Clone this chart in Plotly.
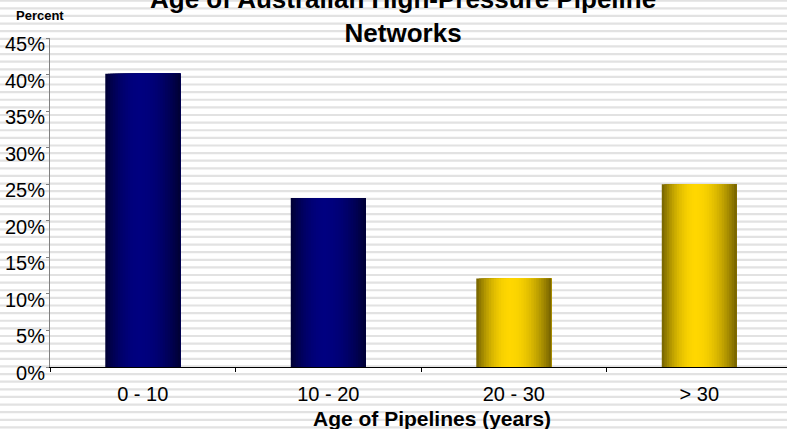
import numpy as np
import plotly.graph_objects as go

# ---- data ----
categories = ["0 - 10", "10 - 20", "20 - 30", "> 30"]
percent_values = [40.1, 23.1, 12.1, 25.0]
bar_palette = ["blue", "blue", "gold", "gold"]
y_tick_values = [0, 5, 10, 15, 20, 25, 30, 35, 40, 45]
y_tick_labels = ["0%", "5%", "10%", "15%", "20%", "25%", "30%", "35%", "40%", "45%"]

title_text = "Age of Australian High-Pressure Pipeline<br>Networks"
x_title_text = "Age of Pipelines (years)"
y_title_text = "Percent"

# ---- geometry (pixels) ----
W, H = 787, 429
ML, MR, MT, MB = 50, 0, 38, 62
plot_w = W - ML - MR
plot_h = H - MT - MB
cat_px = 185.5
x_range = [-0.5, -0.5 + plot_w / cat_px]

def px_to_paper_y(py):
    return (H - MB - py) / plot_h

def px_to_paper_x(px):
    return (px - ML) / plot_w

FONT = "Liberation Sans, Arial, sans-serif"

# ---- gradient colours ----
centers = {"blue": (0, 0, 128), "gold": (255, 215, 0)}
edges = {"blue": 0.40, "gold": 0.45}
peak = 0.45
n_slices = 30
bar_w = 0.404

def shade(name, t):
    d = peak if t < peak else 1 - peak
    u = (t - peak) / d
    f = edges[name] + (1 - edges[name]) * (1 - u * u)
    r, g, b = centers[name]
    return f"rgb({int(r*f)},{int(g*f)},{int(b*f)})"

fig = go.Figure()
step = bar_w / n_slices
for i in range(n_slices):
    t = (i + 0.5) / n_slices
    fig.add_trace(go.Bar(
        x=categories,
        y=percent_values,
        offset=-bar_w / 2 + i * step,
        width=bar_w - i * step,
        marker=dict(color=[shade(p, t) for p in bar_palette], line=dict(width=0)),
        showlegend=False,
        hoverinfo="skip",
    ))

# ---- striped background ----
shapes = []
period = 7.62
y0 = 0.7
k = 0
while y0 + k * period < H + 5:
    c = y0 + k * period
    shapes.append(dict(
        type="rect", xref="paper", yref="paper", layer="below",
        x0=px_to_paper_x(-5), x1=px_to_paper_x(W + 5),
        y0=px_to_paper_y(c + 1.1), y1=px_to_paper_y(c - 1.1),
        fillcolor="#e2e2e2", line=dict(width=0),
    ))
    k += 1

annotations = [
    dict(text=title_text, xref="paper", yref="paper",
         x=px_to_paper_x(402.5), y=px_to_paper_y(16), xanchor="center", yanchor="middle",
         showarrow=False, font=dict(family=FONT, size=26, color="black", weight="bold")),
    dict(text=y_title_text, xref="paper", yref="paper",
         x=px_to_paper_x(14), y=px_to_paper_y(15), xanchor="left", yanchor="middle",
         showarrow=False, font=dict(family=FONT, size=13, color="black", weight="bold")),
    dict(text=x_title_text, xref="paper", yref="paper",
         x=px_to_paper_x(432), y=px_to_paper_y(418), xanchor="center", yanchor="middle",
         showarrow=False, font=dict(family=FONT, size=21, color="black", weight="bold")),
]

fig.update_layout(
    width=W, height=H,
    margin=dict(l=ML, r=MR, t=MT, b=MB, pad=0),
    paper_bgcolor="white",
    plot_bgcolor="rgba(0,0,0,0)",
    barmode="overlay",
    shapes=shapes,
    annotations=annotations,
    font=dict(family=FONT, color="black"),
    xaxis=dict(
        range=x_range, showgrid=False, zeroline=False,
        showline=True, linecolor="black", linewidth=1,
        ticks="outside", ticklen=4, tickcolor="black", tickwidth=1,
        tickson="boundaries",
        tickfont=dict(family=FONT, size=20, color="black"),
        ticklabelstandoff=9,
        fixedrange=True,
    ),
    yaxis=dict(
        range=[0, 45], showgrid=False, zeroline=False,
        showline=True, linecolor="#808080", linewidth=1,
        ticks="outside", ticklen=3, tickcolor="#808080", tickwidth=1,
        tickvals=y_tick_values, ticktext=y_tick_labels,
        tickfont=dict(family=FONT, size=20, color="black"),
        ticklabelshift=6, ticklabelstandoff=-3,
        fixedrange=True,
    ),
)

fig.write_html("out.html")
